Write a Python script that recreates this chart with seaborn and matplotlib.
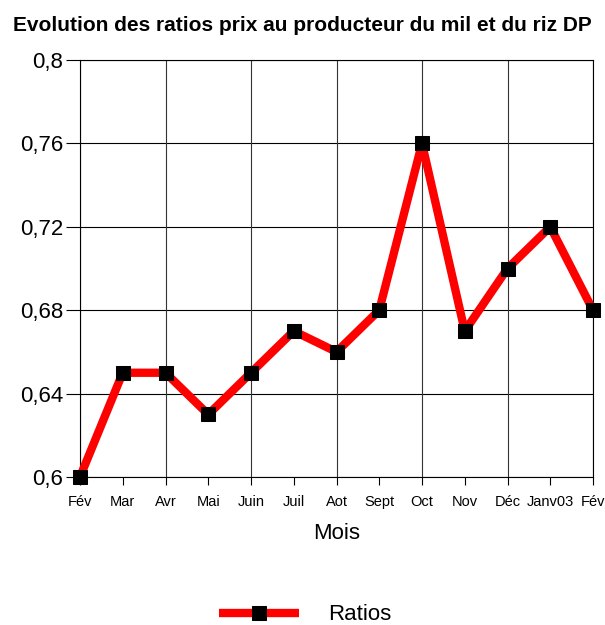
import matplotlib
matplotlib.use("Agg")
import matplotlib.pyplot as plt
import seaborn as sns
import numpy as np
import pandas as pd
from matplotlib.ticker import FuncFormatter

months = ["Fév", "Mar", "Avr", "Mai", "Juin", "Juil", "Aot", "Sept", "Oct", "Nov", "Déc", "Janv03", "Fév"]
ratios = [0.60, 0.65, 0.65, 0.63, 0.65, 0.67, 0.66, 0.68, 0.76, 0.67, 0.70, 0.72, 0.68]
yticks = [0.6, 0.64, 0.68, 0.72, 0.76, 0.8]

sns.set_theme(style="white")
plt.rcParams['font.family'] = ['Liberation Sans', 'DejaVu Sans']
plt.rcParams['text.color'] = 'black'
plt.rcParams['axes.labelcolor'] = 'black'
plt.rcParams['xtick.color'] = 'black'
plt.rcParams['ytick.color'] = 'black'

df = pd.DataFrame({"pos": np.arange(len(months)), "Ratios": ratios})

fig = plt.figure(figsize=(6.05, 6.25), dpi=100)
ax = fig.add_axes([80/605, 1-477/625, (593-80)/605, (477-60)/625])

sns.lineplot(data=df, x="pos", y="Ratios", ax=ax, color="#ff0000", linewidth=6,
             marker="s", markersize=10, markerfacecolor="black", markeredgecolor="black",
             label="Ratios", clip_on=False, zorder=5, solid_capstyle="butt")

ax.set_xlim(0, len(months) - 1)
ax.set_ylim(0.6, 0.8)
ax.set_yticks(yticks)
ax.yaxis.set_major_formatter(FuncFormatter(lambda v, p: ("%g" % round(v, 2)).replace(".", ",")))
ax.set_xticks(df["pos"])
ax.set_xticklabels(months, fontsize=10.5)
ax.tick_params(axis="y", labelsize=16, length=10, width=0.8, color="black", labelcolor="black",
               direction="out", left=True, pad=2)
ax.tick_params(axis="x", length=6, width=0.8, color="black", labelcolor="black",
               direction="out", bottom=True, pad=7)

ax.grid(False)
for y in yticks:
    ax.axhline(y, color="black", linewidth=0.8, zorder=1)
for x in df["pos"][::2]:
    ax.axvline(x, color="#333333", linewidth=0.8, zorder=1)

for s in ax.spines.values():
    s.set_color("black")
    s.set_linewidth(0.8)

ax.set_xlabel("Mois", fontsize=16, labelpad=10, color="black")
ax.set_ylabel("")
fig.suptitle("Evolution des ratios prix au producteur du mil et du riz DP",
             fontsize=15, fontweight="bold", x=0.5, y=0.975, color="black")

leg = ax.legend(loc="center", bbox_to_anchor=(305/605, 1-615/625), bbox_transform=fig.transFigure,
                frameon=False, fontsize=16, handlelength=3.6, handletextpad=1.3)
for t in leg.get_texts():
    t.set_color("black")

fig.savefig("out.png", dpi=100)
